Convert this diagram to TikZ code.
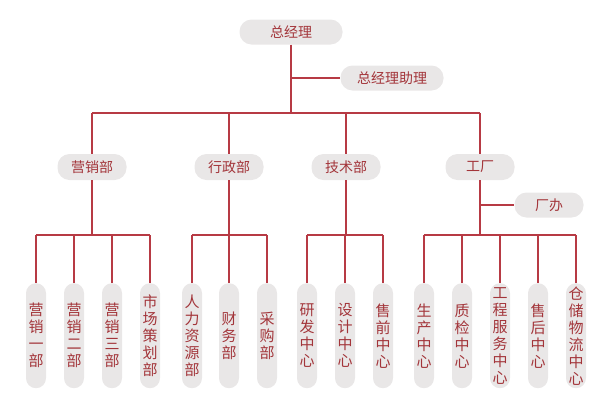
\documentclass[tikz,border=0pt]{standalone}
\usepackage{fontspec}
\setmainfont{Noto Sans CJK SC}
\usetikzlibrary{positioning,calc}
\definecolor{lineRed}{HTML}{B73A44}
\definecolor{textRed}{HTML}{A3353A}
\definecolor{pillGray}{HTML}{E9E7E7}
\tikzset{
	link/.style = {draw=lineRed, line width=1.3pt},
	pill/.style = {rounded corners=12pt, fill=pillGray, text=textRed,
	 inner sep=0pt, minimum height=25pt, font=\fontsize{14}{16}\selectfont},
	chief/.style = {pill, minimum width=103pt},
	dept/.style = {pill, minimum width=69pt, minimum height=26pt},
	leaf/.style = {rounded corners=10pt, fill=pillGray, text=textRed,
	 inner sep=0pt, minimum width=20pt, minimum height=105pt, anchor=north,
	 align=center, font=\fontsize{15}{17}\selectfont},
}

\begin{document}
\begin{tikzpicture}[x=1pt, y=-1pt]
    \useasboundingbox (0,0) rectangle (600,400);
    % top
    \node[chief] (ceo) at (291,32) {总经理};
    \node[chief] (asst) at (392,78) {总经理助理};
    \coordinate (bus1) at (291,113);
    \coordinate (bus2) at (291,235);
    % departments
    \node[dept] (sales) at (92,167) {营销部};
    \node[dept] (admin) at (229,167) {行政部};
    \node[dept] (tech) at (346,167) {技术部};
    \node[dept] (plant) at (480,167) {工厂};
    \node[dept, minimum height=25pt] (office) at (549,205) {厂办};
    % leaves
    \node[leaf] (s1) at (36,283) {营\\销\\一\\部};
    \node[leaf] (s2) at (74,283) {营\\销\\二\\部};
    \node[leaf] (s3) at (112,283) {营\\销\\三\\部};
    \node[leaf] (s4) at (150,283) {市\\场\\策\\划\\部};
    \node[leaf] (a1) at (192,283) {人\\力\\资\\源\\部};
    \node[leaf] (a2) at (229,283) {财\\务\\部};
    \node[leaf] (a3) at (267,283) {采\\购\\部};
    \node[leaf] (t1) at (307,283) {研\\发\\中\\心};
    \node[leaf] (t2) at (345,283) {设\\计\\中\\心};
    \node[leaf] (t3) at (383,283) {售\\前\\中\\心};
    \node[leaf] (p1) at (424,283) {生\\产\\中\\心};
    \node[leaf] (p2) at (462,283) {质\\检\\中\\心};
    \node[leaf] (p3) at (500,283) {工\\程\\服\\务\\中\\心};
    \node[leaf] (p4) at (538,283) {售\\后\\中\\心};
    \node[leaf] (p5) at (576,283) {仓\\储\\物\\流\\中\\心};
    % links
    \draw[link] (ceo) -- (bus1);
    \draw[link] (ceo |- asst) -- (asst);
    \draw[link] (sales |- bus1) -- (plant |- bus1);
    \foreach \d in {sales,admin,tech,plant}
        \draw[link] (\d |- bus1) -- (\d);
    \draw[link] (plant |- office) -- (office);
    \foreach \d/\a/\b in {sales/s1/s4, admin/a1/a3, tech/t1/t3, plant/p1/p5} {
        \draw[link] (\d) -- (\d |- bus2);
        \draw[link] (\a |- bus2) -- (\b |- bus2);
    }
    \foreach \l in {s1,s2,s3,s4,a1,a2,a3,t1,t2,t3,p1,p2,p3,p4,p5}
        \draw[link] (\l |- bus2) -- (\l);
\end{tikzpicture}
\end{document}
